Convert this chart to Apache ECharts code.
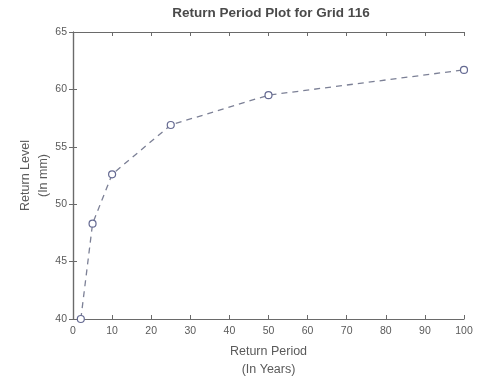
<!DOCTYPE html>
<html>
<head>
<meta charset="utf-8">
<script src="https://cdn.jsdelivr.net/npm/echarts@6/dist/echarts.min.js"></script>
<style>
  html, body { margin: 0; padding: 0; background: #fff; }
  #chart { width: 479px; height: 380px; }
</style>
</head>
<body>
<div id="chart"></div>
<script>
// Return periods (years) and the estimated return levels (mm)
const returnPeriods = [2, 5, 10, 25, 50, 100];
const returnLevels = [40.0, 48.3, 52.6, 56.9, 59.5, 61.7];
const xTicks = [0, 10, 20, 30, 40, 50, 60, 70, 80, 90, 100];
const yTicks = [40, 45, 50, 55, 60, 65];

const axisGray = '#6a6a6a';
const textGray = '#5a5a5a';
const font = 'Liberation Sans, Arial, sans-serif';

const chart = echarts.init(document.getElementById('chart'));

const baseAxis = {
  axisLine: { show: true, lineStyle: { color: axisGray, width: 1.2 } },
  axisTick: { show: true, inside: true, length: 4, lineStyle: { color: axisGray } },
  splitLine: { show: false }
};

chart.setOption({
  animation: false,
  backgroundColor: '#fff',
  title: {
    text: 'Return Period Plot for Grid 116',
    left: 266, top: 1, textAlign: 'center',
    textStyle: { fontFamily: font, fontSize: 13.5, fontWeight: 'bold', color: '#4a4a4a' }
  },
  grid: { left: 73, right: 15, top: 32, bottom: 61, outerBoundsMode: 'none', containLabel: false },
  xAxis: [
    Object.assign({}, baseAxis, {
      type: 'value', min: xTicks[0], max: xTicks[xTicks.length - 1], interval: 10,
      name: 'Return Period\n(In Years)', nameLocation: 'middle', nameGap: 24,
      nameMoveOverlap: false,
      nameTextStyle: { fontFamily: font, fontSize: 12.5, color: textGray, lineHeight: 18 },
      axisLabel: { fontFamily: font, fontSize: 10.5, color: textGray, margin: 7 }
    }),
    Object.assign({}, baseAxis, {
      type: 'value', position: 'top', min: xTicks[0], max: xTicks[xTicks.length - 1], interval: 10,
      axisLabel: { show: false }
    })
  ],
  yAxis: [
    Object.assign({}, baseAxis, {
      type: 'value', min: yTicks[0], max: yTicks[yTicks.length - 1], interval: 5,
      name: 'Return Level\n(In mm)', nameLocation: 'middle', nameGap: 20, nameRotate: 90,
      nameMoveOverlap: false,
      nameTextStyle: { fontFamily: font, fontSize: 12.5, color: textGray, lineHeight: 18 },
      axisLabel: { fontFamily: font, fontSize: 10.5, color: textGray, margin: 6 }
    }),
    Object.assign({}, baseAxis, {
      type: 'value', position: 'right', min: yTicks[0], max: yTicks[yTicks.length - 1], interval: 5,
      axisLabel: { show: false }
    })
  ],
  series: [{
    type: 'line',
    data: returnPeriods.map((p, i) => [p, returnLevels[i]]),
    symbol: 'circle',
    symbolSize: 7,
    showAllSymbol: true,
    itemStyle: { color: '#fff', borderColor: '#656a92', borderWidth: 1.2 },
    lineStyle: { color: '#7c8096', width: 1.3, type: [6, 5] },
    clip: false
  }]
});
</script>
</body>
</html>
